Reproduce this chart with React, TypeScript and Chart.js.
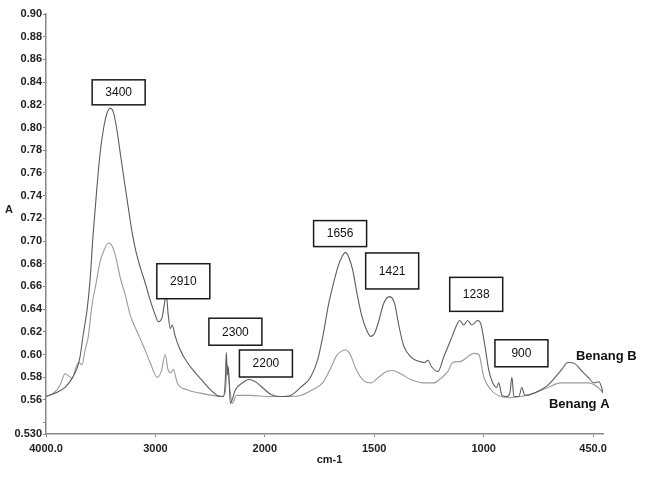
import React, { useEffect, useRef } from "react";
import { Chart, registerables } from "chart.js";

Chart.register(...registerables);

// ---- Data (wavenumber cm-1, absorbance) ----
const wnB = [4000, 3918, 3826, 3762, 3716, 3689, 3661, 3625, 3597, 3570, 3533, 3505, 3469, 3441, 3414, 3386, 3359, 3322, 3286, 3258, 3212, 3176, 3139, 3093, 3048, 3002, 2974, 2938, 2919, 2901, 2883, 2864, 2846, 2819, 2773, 2709, 2636, 2562, 2498, 2434, 2379, 2361, 2352, 2342, 2333, 2315, 2269, 2205, 2150, 2086, 2022, 1974, 1929, 1883, 1837, 1791, 1759, 1732, 1709, 1686, 1663, 1645, 1631, 1617, 1599, 1576, 1558, 1540, 1516, 1498, 1480, 1457, 1430, 1407, 1388, 1366, 1333, 1297, 1269, 1255, 1237, 1209, 1182, 1150, 1123, 1109, 1091, 1073, 1054, 1027, 1013, 994, 974, 954, 934, 924, 908, 883, 868, 858, 848, 823, 808, 793, 747, 677, 611, 576, 541, 510, 475, 445, 420, 399];
const absB = [0.563, 0.566, 0.571, 0.579, 0.588, 0.598, 0.617, 0.639, 0.666, 0.705, 0.749, 0.778, 0.802, 0.813, 0.817, 0.814, 0.802, 0.778, 0.754, 0.736, 0.707, 0.690, 0.677, 0.663, 0.648, 0.635, 0.629, 0.633, 0.644, 0.653, 0.635, 0.623, 0.626, 0.616, 0.604, 0.593, 0.584, 0.576, 0.569, 0.564, 0.563, 0.578, 0.602, 0.582, 0.589, 0.557, 0.569, 0.575, 0.578, 0.576, 0.571, 0.565, 0.563, 0.564, 0.571, 0.580, 0.595, 0.619, 0.644, 0.663, 0.679, 0.687, 0.690, 0.686, 0.675, 0.651, 0.635, 0.624, 0.616, 0.619, 0.629, 0.645, 0.651, 0.645, 0.626, 0.608, 0.598, 0.594, 0.593, 0.595, 0.589, 0.585, 0.598, 0.613, 0.626, 0.630, 0.626, 0.630, 0.626, 0.630, 0.627, 0.608, 0.586, 0.575, 0.571, 0.575, 0.564, 0.563, 0.566, 0.580, 0.563, 0.563, 0.571, 0.564, 0.566, 0.573, 0.586, 0.593, 0.592, 0.586, 0.580, 0.575, 0.576, 0.566];

const wnA = [4000, 3918, 3872, 3826, 3789, 3762, 3725, 3698, 3670, 3643, 3615, 3579, 3542, 3505, 3469, 3432, 3405, 3368, 3322, 3277, 3231, 3167, 3112, 3048, 2984, 2947, 2910, 2883, 2855, 2837, 2800, 2709, 2590, 2480, 2388, 2361, 2342, 2324, 2297, 2260, 2132, 1974, 1883, 1837, 1782, 1736, 1699, 1672, 1649, 1631, 1612, 1585, 1553, 1516, 1480, 1443, 1416, 1379, 1333, 1274, 1228, 1196, 1164, 1141, 1104, 1073, 1045, 1022, 999, 964, 913, 863, 812, 747, 677, 611, 536, 475, 425, 399];
const absA = [0.563, 0.567, 0.573, 0.583, 0.581, 0.579, 0.589, 0.593, 0.591, 0.604, 0.615, 0.644, 0.663, 0.682, 0.692, 0.698, 0.697, 0.688, 0.668, 0.653, 0.635, 0.620, 0.608, 0.593, 0.580, 0.585, 0.600, 0.586, 0.584, 0.587, 0.575, 0.569, 0.566, 0.564, 0.563, 0.567, 0.591, 0.573, 0.557, 0.564, 0.564, 0.563, 0.563, 0.564, 0.569, 0.575, 0.588, 0.599, 0.603, 0.604, 0.601, 0.588, 0.578, 0.575, 0.580, 0.585, 0.586, 0.583, 0.578, 0.575, 0.575, 0.579, 0.585, 0.593, 0.594, 0.598, 0.601, 0.600, 0.580, 0.569, 0.563, 0.562, 0.563, 0.566, 0.571, 0.575, 0.575, 0.575, 0.571, 0.566];

const seriesNames = ["Benang B", "Benang A"];

// Axis ticks
const xTickWn = [4000, 3000, 2000, 1500, 1000, 450];
const xTickLabels = ["4000.0", "3000", "2000", "1500", "1000", "450.0"];
const xAxisEndWn = 400;
const yTicks = [0.53, 0.54, 0.56, 0.58, 0.6, 0.62, 0.64, 0.66, 0.68, 0.7, 0.72, 0.74, 0.76, 0.78, 0.8, 0.82, 0.84, 0.86, 0.88, 0.9];
const yTickLabels = ["0.530", "", "0.56", "0.58", "0.60", "0.62", "0.64", "0.66", "0.68", "0.70", "0.72", "0.74", "0.76", "0.78", "0.80", "0.82", "0.84", "0.86", "0.88", "0.90"];

// Peak annotation boxes (anchored in data coordinates)
const annotations = [
  { label: "3400", wn: 3336, top: 0.842, h: 25 },
  { label: "2910", wn: 2745, top: 0.68, h: 35 },
  { label: "2300", wn: 2269, top: 0.632, h: 27 },
  { label: "2200", wn: 1995, top: 0.604, h: 27 },
  { label: "1656", wn: 1656, top: 0.718, h: 26 },
  { label: "1421", wn: 1418, top: 0.6895, h: 36 },
  { label: "1238", wn: 1034, top: 0.668, h: 34 },
  { label: "900", wn: 810, top: 0.613, h: 27 },
];
const seriesLabelPos = [
  { wn: 536, y: 0.598 },
  { wn: 672, y: 0.556 },
];

// piecewise FTIR axis (scale changes at 2000 cm-1)
function wnToPos(wn: number): number {
  for (let i = 0; i < xTickWn.length - 1; i++) {
    const a = xTickWn[i];
    const b = xTickWn[i + 1];
    if (wn >= b) return i + (a - wn) / (a - b);
  }
  const n = xTickWn.length - 1;
  const a = xTickWn[n - 1];
  const b = xTickWn[n];
  return n - 1 + (a - wn) / (a - b);
}

const FONT = "'Liberation Sans', Arial, sans-serif";

const overlay = {
  id: "overlay",
  afterDatasetsDraw(chart: any) {
    const { ctx, scales, chartArea } = chart;
    const x = scales.x;
    const y = scales.y;
    ctx.save();
    annotations.forEach((a) => {
      const cx = x.getPixelForValue(wnToPos(a.wn));
      const ty = y.getPixelForValue(a.top);
      const w = 53;
      ctx.fillStyle = "#ffffff";
      ctx.fillRect(cx - w / 2, ty, w, a.h);
      ctx.strokeStyle = "#1a1a1a";
      ctx.lineWidth = 1.5;
      ctx.strokeRect(cx - w / 2, ty, w, a.h);
      ctx.fillStyle = "#111";
      ctx.font = `12px ${FONT}`;
      ctx.textAlign = "center";
      ctx.textBaseline = "middle";
      ctx.fillText(a.label, cx, ty + a.h / 2 + 0.5);
    });
    ctx.font = `bold 13px ${FONT}`;
    ctx.textAlign = "left";
    ctx.textBaseline = "middle";
    ctx.fillStyle = "#111";
    seriesLabelPos.forEach((p, i) => {
      ctx.fillText(seriesNames[i], x.getPixelForValue(wnToPos(p.wn)), y.getPixelForValue(p.y));
    });
    ctx.font = `bold 11px ${FONT}`;
    ctx.textAlign = "center";
    ctx.fillStyle = "#222";
    ctx.fillText("A", 9, y.getPixelForValue(0.727));
    ctx.fillText("cm-1", (chartArea.left + chartArea.right) / 2 + 5, chartArea.bottom + 26);
    ctx.restore();
  },
};

export default function App() {
  const ref = useRef<HTMLCanvasElement>(null);
  useEffect(() => {
    if (!ref.current) return;
    const tickFont = { family: FONT, size: 11, weight: "bold" as const };
    const chart = new Chart(ref.current, {
      type: "line",
      data: {
        datasets: [
          {
            label: seriesNames[0],
            data: wnB.map((w, i) => ({ x: wnToPos(w), y: absB[i] })),
            borderColor: "#5c5c5c",
            borderWidth: 1.1,
            pointRadius: 0,
            cubicInterpolationMode: "monotone",
            fill: false,
          },
          {
            label: seriesNames[1],
            data: wnA.map((w, i) => ({ x: wnToPos(w), y: absA[i] })),
            borderColor: "#9a9a9a",
            borderWidth: 1.1,
            pointRadius: 0,
            cubicInterpolationMode: "monotone",
            fill: false,
          },
        ],
      },
      options: {
        animation: false,
        responsive: false,
        devicePixelRatio: 1,
        layout: { padding: { top: 14, right: 43, left: 0, bottom: 0 } },
        plugins: { legend: { display: false }, tooltip: { enabled: false } },
        scales: {
          x: {
            type: "linear",
            min: 0,
            max: wnToPos(xAxisEndWn),
            afterBuildTicks: (s: any) => {
              s.ticks = xTickWn.map((w) => ({ value: wnToPos(w) }));
            },
            afterFit: (s: any) => {
              s.height = 43;
            },
            ticks: {
              autoSkip: false,
              maxRotation: 0,
              padding: 5,
              color: "#222",
              font: tickFont,
              callback: (_v: any, i: number) => xTickLabels[i],
            },
            grid: { display: true, drawOnChartArea: false, drawTicks: true, tickLength: 3, color: "#888" },
            border: { display: true, color: "#888", width: 1.5 },
          },
          y: {
            type: "linear",
            min: 0.53,
            max: 0.9,
            afterBuildTicks: (s: any) => {
              s.ticks = yTicks.map((v) => ({ value: v }));
            },
            afterFit: (s: any) => {
              s.width = 46;
            },
            ticks: {
              autoSkip: false,
              padding: 1,
              color: "#222",
              font: tickFont,
              callback: (_v: any, i: number) => yTickLabels[i],
            },
            grid: { display: true, drawOnChartArea: false, drawTicks: true, tickLength: 3, color: "#888" },
            border: { display: true, color: "#888", width: 1.5 },
          },
        },
      },
      plugins: [overlay],
    });
    return () => chart.destroy();
  }, []);
  return (
    <div style={{ position: "absolute", left: 0, top: 0, width: 646, height: 477, background: "#fff" }}>
      <canvas ref={ref} width={646} height={477} style={{ width: 646, height: 477 }} />
    </div>
  );
}
